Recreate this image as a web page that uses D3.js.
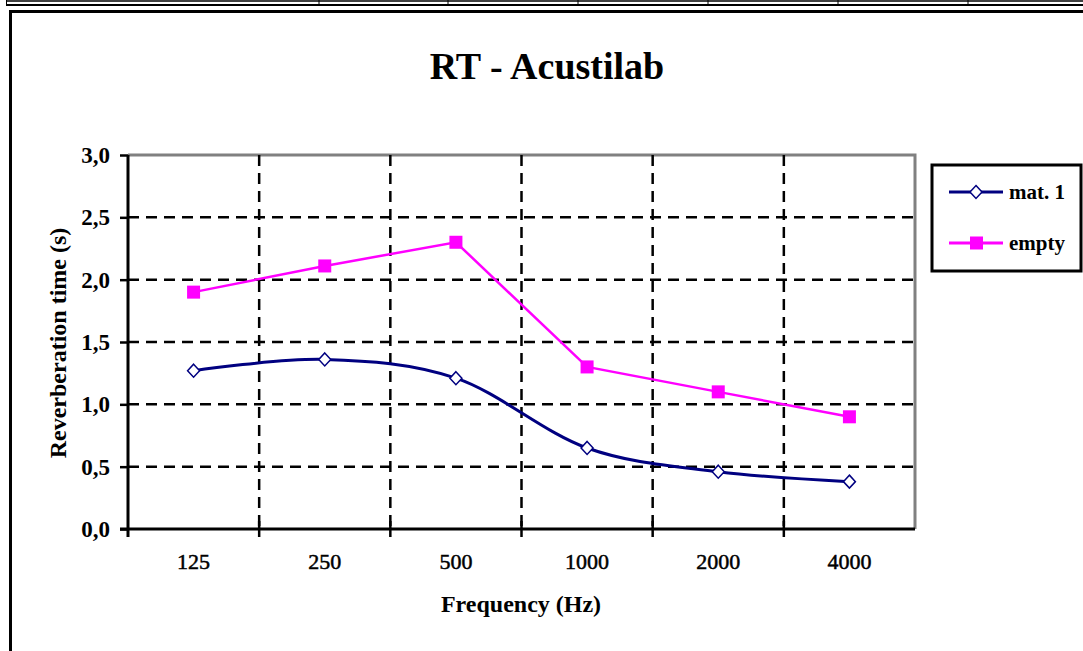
<!DOCTYPE html>
<html>
    <head>
        <meta charset="utf-8">
        <script src="https://d3js.org/d3.v7.min.js"></script>
        <style type="text/css">
            body {
                margin: 0;
                background: #fff;
            }
            text {
                font-family: "Liberation Serif", "Times New Roman", serif;
                fill: #000;
            }
        </style>
    </head>
    <body>
        <svg id="chart" width="1083" height="651" xmlns="http://www.w3.org/2000/svg"></svg>

        <script type="text/javascript">
        // data
        const categories = ["125", "250", "500", "1000", "2000", "4000"];
        const mat1 = [1.27, 1.36, 1.21, 0.65, 0.46, 0.38];
        const empty = [1.90, 2.11, 2.30, 1.30, 1.10, 0.90];
        const yTicks = [0, 0.5, 1, 1.5, 2, 2.5, 3];
        const sheetCols = [319, 448, 578, 708, 838, 968]; // spreadsheet column lines at the top

        const svg = d3.select("#chart");

        // spreadsheet leftovers at the very top
        svg.append("line").attr("x1", 6).attr("x2", 1083).attr("y1", 1).attr("y2", 1)
            .attr("stroke", "#000").attr("stroke-width", 1.5);
        svg.append("line").attr("x1", 6).attr("x2", 1083).attr("y1", 5).attr("y2", 5)
            .attr("stroke", "#000").attr("stroke-width", 2);
        svg.append("line").attr("x1", 6.5).attr("x2", 6.5).attr("y1", 0).attr("y2", 6)
            .attr("stroke", "#000").attr("stroke-width", 1);
        svg.selectAll(".col").data(sheetCols).join("line")
            .attr("x1", d => d).attr("x2", d => d).attr("y1", 0).attr("y2", 4)
            .attr("stroke", "#000").attr("stroke-width", 1);

        // chart frame
        svg.append("rect")
            .attr("x", 10.5).attr("y", 11.5)
            .attr("width", 1100).attr("height", 700)
            .attr("fill", "#fff").attr("stroke", "#000").attr("stroke-width", 3);

        const x = d3.scaleBand().domain(categories).range([128, 915]).padding(0);
        const y = d3.scaleLinear().domain([0, 3]).range([529, 155]);
        const cx = d => x(d) + x.bandwidth() / 2;

        // plot area border (gray top / right)
        svg.append("path")
            .attr("d", `M${x.range()[0]},${y(3)}H${x.range()[1]}V${y(0)}`)
            .attr("fill", "none").attr("stroke", "#808080").attr("stroke-width", 3);

        // horizontal dashed grid
        svg.append("g").selectAll("line")
            .data(yTicks.filter(d => d > 0 && d < 3))
            .join("line")
            .attr("x1", 128).attr("x2", 915)
            .attr("y1", d => y(d)).attr("y2", d => y(d))
            .attr("stroke", "#000").attr("stroke-width", 2.5)
            .attr("stroke-dasharray", "11,7");

        // vertical dashed grid at category borders
        svg.append("g").selectAll("line")
            .data(categories.slice(1))
            .join("line")
            .attr("x1", d => x(d)).attr("x2", d => x(d))
            .attr("y1", y(3)).attr("y2", y(0))
            .attr("stroke", "#000").attr("stroke-width", 2.5)
            .attr("stroke-dasharray", "11,7");

        // y axis
        const yAxis = svg.append("g")
            .attr("transform", `translate(128,0)`)
            .call(d3.axisLeft(y).tickValues(yTicks).tickSize(8).tickPadding(10)
                .tickFormat(d => d3.format(".1f")(d).replace(".", ",")));
        yAxis.select(".domain").remove();
        yAxis.selectAll(".tick line").attr("stroke", "#000").attr("stroke-width", 2.5);
        yAxis.selectAll("text")
            .style("font-family", '"Liberation Serif", serif')
            .style("font-size", "23px").style("font-weight", "bold");
        svg.append("line").attr("x1", 128).attr("x2", 128)
            .attr("y1", y(3)).attr("y2", y(0) + 8)
            .attr("stroke", "#000").attr("stroke-width", 3);

        // x axis
        const xAxis = svg.append("g")
            .attr("transform", `translate(0,${y(0)})`)
            .call(d3.axisBottom(x).tickSize(0).tickPadding(24));
        xAxis.select(".domain").remove();
        xAxis.selectAll("text")
            .style("font-family", '"Liberation Serif", serif')
            .style("font-size", "22px")
            .attr("stroke", "#000").attr("stroke-width", 0.5);
        svg.append("line").attr("x1", 120).attr("x2", 915)
            .attr("y1", y(0)).attr("y2", y(0))
            .attr("stroke", "#000").attr("stroke-width", 3);
        svg.append("g").selectAll("line")
            .data(categories.slice(1))
            .join("line")
            .attr("x1", d => x(d)).attr("x2", d => x(d))
            .attr("y1", y(0) - 8).attr("y2", y(0) + 8)
            .attr("stroke", "#000").attr("stroke-width", 2.5);

        // series
        const lineEmpty = d3.line()
            .x((d, i) => cx(categories[i]))
            .y(d => y(d));
        const lineMat = d3.line()
            .x((d, i) => cx(categories[i]))
            .y(d => y(d))
            .curve(d3.curveCardinal.tension(0));

        svg.append("path").datum(empty)
            .attr("d", lineEmpty)
            .attr("fill", "none").attr("stroke", "#ff00ff").attr("stroke-width", 2.5);
        svg.append("path").datum(mat1)
            .attr("d", lineMat)
            .attr("fill", "none").attr("stroke", "#000080").attr("stroke-width", 3);

        const diamond = "M0,-6.5L6,0L0,6.5L-6,0Z";

        svg.append("g").selectAll("rect")
            .data(empty)
            .join("rect")
            .attr("x", (d, i) => cx(categories[i]) - 6.5)
            .attr("y", d => y(d) - 6.5)
            .attr("width", 13).attr("height", 13)
            .attr("fill", "#ff00ff");

        svg.append("g").selectAll("path")
            .data(mat1)
            .join("path")
            .attr("d", diamond)
            .attr("transform", (d, i) => `translate(${cx(categories[i])},${y(d)})`)
            .attr("fill", "#fff").attr("stroke", "#000080").attr("stroke-width", 1.5);

        // title
        svg.append("text")
            .attr("x", 547).attr("y", 79)
            .attr("text-anchor", "middle")
            .style("font-size", "38px").style("font-weight", "bold")
            .text("RT - Acustilab");

        // axis titles
        svg.append("text")
            .attr("x", 521).attr("y", 612)
            .attr("text-anchor", "middle")
            .style("font-size", "24px").style("font-weight", "bold")
            .text("Frequency (Hz)");
        svg.append("text")
            .attr("transform", "translate(66,343) rotate(-90)")
            .attr("text-anchor", "middle")
            .style("font-size", "24px").style("font-weight", "bold")
            .text("Reverberation time (s)");

        // legend
        const legend = svg.append("g");
        legend.append("rect")
            .attr("x", 932).attr("y", 165)
            .attr("width", 149).attr("height", 106)
            .attr("fill", "#fff").attr("stroke", "#000").attr("stroke-width", 3);

        const legendItems = [
            { name: "mat. 1", color: "#000080", marker: "diamond", ly: 192 },
            { name: "empty", color: "#ff00ff", marker: "square", ly: 243 }
        ];
        legendItems.forEach(it => {
            legend.append("line")
                .attr("x1", 949).attr("x2", 1003)
                .attr("y1", it.ly).attr("y2", it.ly)
                .attr("stroke", it.color).attr("stroke-width", 3);
            if (it.marker === "diamond") {
                legend.append("path").attr("d", diamond)
                    .attr("transform", `translate(976,${it.ly})`)
                    .attr("fill", "#fff").attr("stroke", it.color).attr("stroke-width", 1.5);
            } else {
                legend.append("rect")
                    .attr("x", 970).attr("y", it.ly - 6.5)
                    .attr("width", 13).attr("height", 13)
                    .attr("fill", it.color);
            }
            legend.append("text")
                .attr("x", 1009).attr("y", it.ly + 7)
                .style("font-size", "21px").style("font-weight", "bold")
                .text(it.name);
        });
        </script>
    </body>
</html>
